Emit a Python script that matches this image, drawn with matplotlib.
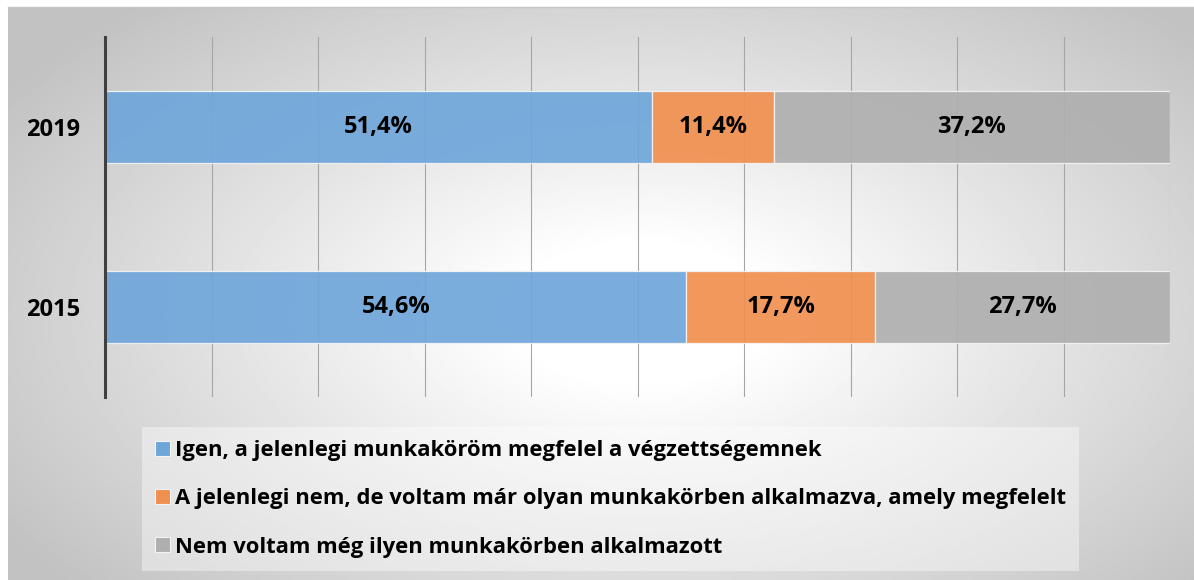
import numpy as np
import matplotlib.pyplot as plt
from matplotlib.patches import Patch
from matplotlib.lines import Line2D

years = ["2015", "2019"]
igen = [54.6, 51.4]
volt = [17.7, 11.4]
nem = [27.7, 37.2]
series_names = [
    "Igen, a jelenlegi munkaköröm megfelel a végzettségemnek",
    "A jelenlegi nem, de voltam már olyan munkakörben alkalmazva, amely megfelelt",
    "Nem voltam még ilyen munkakörben alkalmazott",
]
colors = ["#6fa6da", "#f0904f", "#afafaf"]

plt.rcParams['font.family'] = ['Open Sans', 'DejaVu Sans']
plt.rcParams['font.weight'] = 'bold'

W, H = 1194, 580
fig = plt.figure(figsize=(W / 100, H / 100), dpi=100)

# radial grey background
bg = fig.add_axes([8 / W, 0, 1 - 8 / W, 1 - 7 / H], zorder=-5)
yy, xx = np.mgrid[0:300, 0:600]
cx, cy = 320, 160
r = np.sqrt(((xx - cx) / 320.0) ** 2 + ((yy - cy) / 180.0) ** 2)
shade = 1.0 - 0.24 * np.clip((r - 0.2) / 1.0, 0, 1)
bg.imshow(shade, cmap='gray', vmin=0, vmax=1, aspect='auto', extent=[0, 1, 0, 1])
bg.set_axis_off()
fig.add_artist(Line2D([8 / W, 1], [1 - 7 / H, 1 - 7 / H], color='#c4c4c4', lw=1))

ax = fig.add_axes([105 / W, 1 - 397 / H, 1065 / W, 360 / H])
ax.set_facecolor('none')
ypos = np.arange(len(years))

ax.set_axisbelow(True)
ax.xaxis.grid(True, color='#a6a6a6', lw=0.8)
left = np.zeros(len(years))
for vals, col in zip([igen, volt, nem], colors):
    bars = ax.barh(ypos, vals, left=left, height=0.4, color=col, alpha=0.92,
                   edgecolor='#f4f4f4', linewidth=0.9)
    for b, v in zip(bars, vals):
        ax.text(b.get_x() + b.get_width() / 2, b.get_y() + b.get_height() / 2,
                f"{v:.1f}%".replace('.', ','), ha='center', va='center',
                fontsize=17, fontweight='bold', color='black')
    left += np.array(vals)

ax.set_xlim(0, 100)
ax.set_ylim(-0.5, 1.5)
ax.set_xticks(np.arange(0, 101, 10))
ax.set_xticklabels([])
ax.tick_params(axis='x', length=0)
ax.set_yticks(ypos)
ax.set_yticklabels(years, fontsize=17, fontweight='bold')
ax.tick_params(axis='y', length=0, pad=18)
for s in ['top', 'right', 'bottom']:
    ax.spines[s].set_visible(False)
ax.spines['left'].set_color('#404040')
ax.spines['left'].set_linewidth(2.2)

handles = [Patch(facecolor=c, edgecolor='#f4f4f4', lw=0.8) for c in colors]
leg = fig.legend(handles, series_names, loc='upper left',
                 bbox_to_anchor=(142 / W, 1 - 427 / H), fontsize=15.8,
                 handlelength=0.66, handleheight=0.66, handletextpad=0.25,
                 labelspacing=1.24, borderpad=0.6, borderaxespad=0,
                 frameon=True, fancybox=False)
leg.get_frame().set_facecolor('white')
leg.get_frame().set_alpha(0.4)
leg.get_frame().set_edgecolor('none')
for t in leg.get_texts():
    t.set_fontweight('bold')

fig.savefig('out.png', dpi=100)
